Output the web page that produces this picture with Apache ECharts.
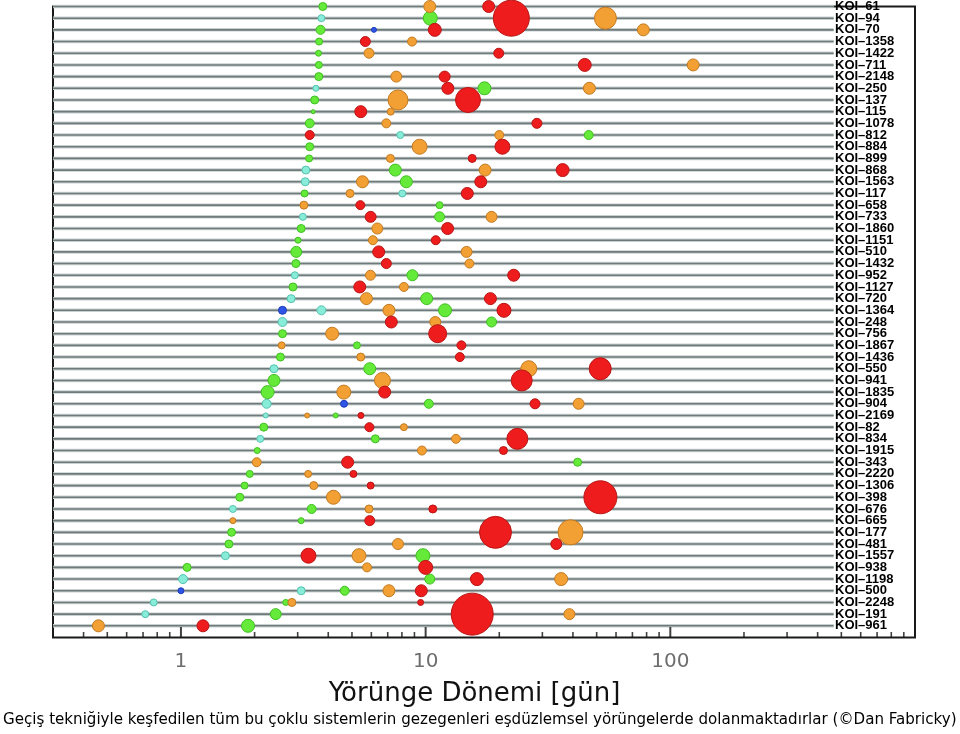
<!DOCTYPE html>
<html>
<head>
<meta charset="utf-8">
<script src="https://cdn.jsdelivr.net/npm/echarts@6/dist/echarts.min.js"></script>
<style>
  html, body { margin: 0; padding: 0; background: #fff; }
  #chart { width: 960px; height: 734px; }
</style>
</head>
<body>
<div id="chart"></div>
<script>
// Row labels, top to bottom
const rowLabels = ['KOI–61','KOI–94','KOI–70','KOI–1358','KOI–1422','KOI–711','KOI–2148','KOI–250','KOI–137','KOI–115','KOI–1078','KOI–812','KOI–884','KOI–899','KOI–868','KOI–1563','KOI–117','KOI–658','KOI–733','KOI–1860','KOI–1151','KOI–510','KOI–1432','KOI–952','KOI–1127','KOI–720','KOI–1364','KOI–248','KOI–756','KOI–1867','KOI–1436','KOI–550','KOI–941','KOI–1835','KOI–904','KOI–2169','KOI–82','KOI–834','KOI–1915','KOI–343','KOI–2220','KOI–1306','KOI–398','KOI–676','KOI–665','KOI–177','KOI–481','KOI–1557','KOI–938','KOI–1198','KOI–500','KOI–2248','KOI–191','KOI–961'];

// Planets: [period (days), row index, symbol diameter]
const redPlanets = [[18.1,0,12],[22.4,1,36],[10.9,2,13],[5.67,3,10],[19.9,4,10],[44.7,5,13],[11.96,6,11],[12.33,7,12],[14.9,8,25],[5.43,9,12],[28.5,10,10],[3.36,11,9],[20.6,12,15],[15.5,13,8],[36.3,14,13],[16.8,15,12],[14.8,16,12],[5.41,17,9],[5.96,18,11],[12.3,19,12],[11.0,20,9],[6.43,21,12],[6.91,22,10],[22.9,23,12],[5.38,24,12],[18.4,25,12],[20.9,26,14],[7.24,27,12],[11.2,28,18],[14.0,29,9],[13.8,30,9],[51.7,31,22],[24.7,32,21],[6.80,33,12],[28.0,34,10],[5.44,35,6],[5.89,36,9],[23.7,37,21],[20.8,38,8],[4.80,39,12],[5.07,40,7],[5.96,41,7],[51.8,42,33],[10.7,43,8],[5.91,44,10],[19.3,45,32],[34.2,46,11],[3.32,47,15],[10.0,48,14],[16.2,49,13],[9.60,50,12],[9.54,51,6],[15.5,52,42],[1.23,53,12]];
const orangePlanets = [[10.4,0,12],[54.3,1,22],[77.6,2,12],[8.80,3,9],[5.87,4,10],[124,5,12],[7.59,6,11],[46.7,7,12],[7.71,8,20],[7.20,9,7],[6.91,10,9],[20.0,11,9],[9.45,12,15],[7.18,13,8],[17.5,14,12],[5.52,15,12],[4.91,16,8],[3.18,17,8],[18.6,18,11],[6.35,19,11],[6.09,20,9],[14.7,21,11],[15.1,22,9],[5.95,23,10],[8.15,24,9],[5.73,25,12],[7.08,26,12],[10.95,27,11],[4.15,28,13],[2.58,29,7],[5.43,30,8],[26.4,31,16],[6.66,32,16],[4.63,33,14],[42.2,34,11],[3.28,35,5],[8.15,36,7],[13.3,37,9],[9.66,38,9],[2.04,39,9],[3.31,40,7],[3.49,41,8],[4.20,42,14],[5.87,43,8],[1.63,44,6],[39.1,45,25],[7.71,46,11],[5.34,47,14],[5.76,48,9],[35.8,49,13],[7.08,50,12],[2.84,51,8],[38.7,52,11],[0.46,53,12]];
const greenPlanets = [[3.80,0,8],[10.45,1,14],[3.72,2,9],[3.67,3,7],[3.65,4,6],[3.66,5,7],[3.66,6,8],[17.4,7,13],[3.52,8,8],[3.47,9,4],[3.36,10,9],[46.4,11,9],[3.36,12,8],[3.34,13,7],[7.52,14,12],[8.34,15,12],[3.20,16,7],[11.4,17,7],[11.4,18,10],[3.10,19,8],[3.01,20,6],[2.96,21,11],[2.95,22,8],[8.83,23,11],[2.87,24,8],[10.1,25,12],[12.0,26,13],[18.6,27,10],[2.60,28,8],[5.24,29,7],[2.55,30,8],[5.91,31,12],[2.40,32,12],[2.26,33,13],[10.3,34,9],[4.29,35,5],[2.18,36,8],[6.23,37,8],[2.05,38,6],[41.8,39,8],[1.91,40,7],[1.82,41,7],[1.74,42,8],[3.42,43,9],[3.10,44,6],[1.61,45,8],[1.57,46,8],[9.75,47,14],[1.06,48,8],[10.4,49,10],[4.67,50,9],[2.68,51,6],[2.44,52,11],[1.88,53,13]];
const cyanPlanets = [[3.75,1,7],[3.56,7,6],[7.88,11,7],[3.24,14,8],[3.22,15,8],[8.03,16,7],[3.15,18,7],[2.92,23,7],[2.82,25,8],[3.75,26,9],[2.60,27,9],[2.40,31,8],[2.24,34,9],[2.22,35,5],[2.11,37,7],[1.63,43,7],[1.52,47,8],[1.02,49,9],[3.10,50,8],[0.774,51,7],[0.715,52,7]];
const bluePlanets = [[6.15,2,5],[2.60,26,8],[4.64,34,7],[1.00,50,6]];

// Axis
const xMin = 0.3, xMax = 1000;
const majorTickLabels = [1, 10, 100];
const minorTickValues = [0.4,0.5,0.6,0.7,0.8,0.9,2,3,4,5,6,7,8,9,20,30,40,50,60,70,80,90,200,300,400,500,600,700,800,900];
const rowLineEnd = 465;

const axisTitle = 'Yörünge Dönemi [gün]';
const caption = 'Geçiş tekniğiyle keşfedilen tüm bu çoklu sistemlerin gezegenleri eşdüzlemsel yörüngelerde dolanmaktadırlar (©Dan Fabricky)';

const yCats = rowLabels.concat(['']);
const bottomIdx = yCats.length - 1;

function planetSeries(data, fill, border) {
  return {
    type: 'scatter',
    data: data,
    symbol: 'circle',
    symbolSize: v => v[2],
    itemStyle: { color: fill, borderColor: border, borderWidth: 1, opacity: 1 },
    z: 5,
    clip: false
  };
}

const chart = echarts.init(document.getElementById('chart'), null, { renderer: 'canvas' });
chart.setOption({
  animation: false,
  backgroundColor: '#ffffff',
  title: {
    text: caption, left: 3, top: 713, padding: 0,
    textStyle: { fontSize: 15.1, fontWeight: 'normal', fontFamily: 'DejaVu Sans', color: '#000' }
  },
  grid: { left: 53, right: 45, top: 1.5, bottom: 96.5, show: true, borderColor: '#1a1a1a', borderWidth: 2, backgroundColor: 'transparent' },
  xAxis: {
    type: 'log', logBase: 10, min: xMin, max: xMax,
    axisLine: { lineStyle: { color: '#111', width: 2 } },
    axisTick: { inside: true, length: 10, lineStyle: { color: '#111', width: 2 } },
    axisLabel: {
      fontSize: 20, color: '#6e6e6e', margin: 14, fontFamily: 'DejaVu Sans',
      formatter: v => { const r = Math.round(v * 1000) / 1000; return majorTickLabels.indexOf(r) >= 0 ? String(r) : ''; }
    },
    splitLine: { show: false },
    name: axisTitle, nameLocation: 'middle', nameGap: 44,
    nameTextStyle: { fontSize: 26, color: '#111', fontFamily: 'DejaVu Sans', padding: [0, 19, 0, 0] }
  },
  yAxis: [
    { type: 'category', data: yCats, inverse: true, boundaryGap: false,
      axisLine: { show: false }, axisTick: { show: false }, axisLabel: { show: false }, splitLine: { show: false } },
    { type: 'category', data: yCats, inverse: true, boundaryGap: false, position: 'right',
      axisLine: { show: false }, axisTick: { show: false }, splitLine: { show: false },
      axisLabel: { inside: true, align: 'left', margin: 80, fontSize: 13, fontWeight: 'bold',
        fontFamily: 'Liberation Sans', color: '#000', interval: 0 } }
  ],
  series: [
    {
      type: 'custom',
      data: rowLabels.map((_, i) => [xMin, rowLineEnd, i]),
      encode: { x: [0, 1], y: 2 },
      renderItem: (params, api) => {
        const a = api.coord([api.value(0), api.value(2)]);
        const b = api.coord([api.value(1), api.value(2)]);
        return { type: 'group', children: [
          { type: 'line', shape: { x1: a[0], y1: a[1], x2: b[0], y2: b[1] }, style: { stroke: '#c9d0d0', lineWidth: 3.5 } },
          { type: 'line', shape: { x1: a[0], y1: a[1], x2: b[0], y2: b[1] }, style: { stroke: '#6f7a7a', lineWidth: 1.6 } }
        ] };
      },
      z: 1, silent: true
    },
    {
      type: 'scatter',
      data: minorTickValues.map(v => [v, bottomIdx]),
      symbol: 'rect', symbolSize: [1.6, 5], symbolOffset: [0, -3],
      itemStyle: { color: '#111' }, z: 3, silent: true
    },
    {
      type: 'scatter',
      data: majorTickLabels.map(v => [v, bottomIdx]),
      symbol: 'rect', symbolSize: [2, 10], symbolOffset: [0, -5.5],
      itemStyle: { color: '#111' }, z: 3, silent: true
    },
    planetSeries(bluePlanets, '#2f55e8', '#1c3cb8'),
    planetSeries(cyanPlanets, '#88ecd9', '#55c2b0'),
    planetSeries(greenPlanets, '#66ea3a', '#3fbf22'),
    planetSeries(orangePlanets, '#f2a033', '#c27a22'),
    planetSeries(redPlanets, '#ee1c1c', '#b81414')
  ]
});
</script>
</body>
</html>
